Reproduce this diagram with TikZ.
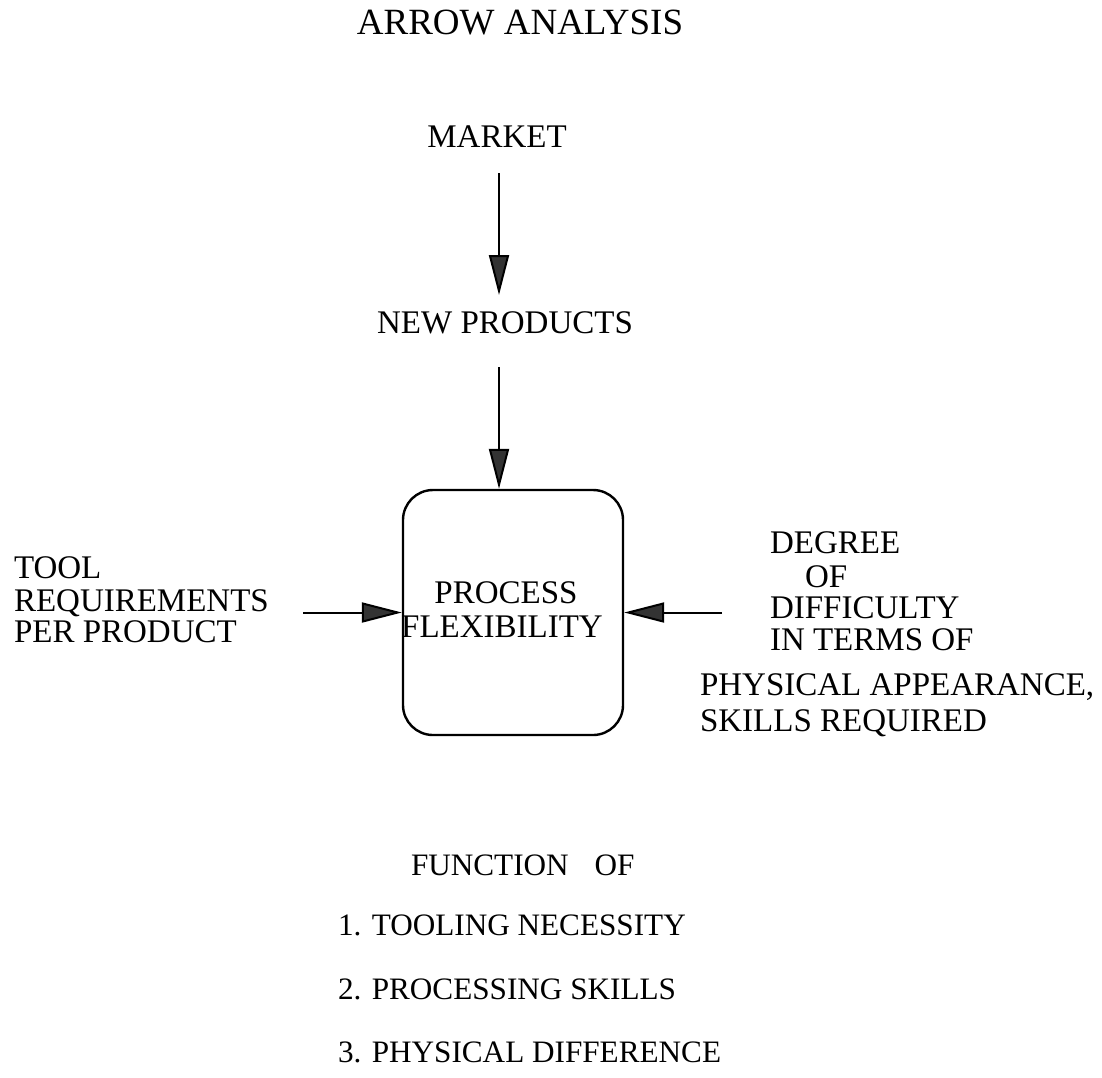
\documentclass[tikz,border=0pt]{standalone}
\usepackage{fontspec}
\setmainfont{Liberation Serif}
\usetikzlibrary{arrows.meta}
\tikzset{
  lbl/.style={inner sep=0pt, outer sep=0pt, anchor=base west, font=\fontsize{16.5}{20}\selectfont},
  clbl/.style={inner sep=0pt, outer sep=0pt, anchor=base, font=\fontsize{16.5}{20}\selectfont},
  listlbl/.style={lbl, font=\fontsize{15.6}{19}\selectfont},
  arr/.style={line width=1pt, -{Triangle[length=20pt,width=10pt,fill=black!80]}},
  procbox/.style={draw, line width=1.2pt, rounded corners=15pt, minimum width=110pt, minimum height=122.5pt, inner sep=0pt}
}
\begin{document}
\begin{tikzpicture}[x=0.5pt,y=-0.5pt]
\useasboundingbox (0,0) rectangle (1102,1077);
% title
\node[clbl, font=\fontsize{18.5}{22}\selectfont] (title) at (520,34) {ARROW ANALYSIS};
% top chain
\node[clbl] (market) at (497,147) {MARKET};
\node[clbl] (newprod) at (505,333) {NEW PRODUCTS};
% box
\node[procbox] (box) at (513,612.5) {};
\node[clbl] (proc1) at (506,603) {PROCESS};
\node[clbl] (proc2) at (502,637) {FLEXIBILITY};
% left text
\node[lbl] (tool1) at (14,578) {TOOL};
\node[lbl] (tool2) at (14,611) {REQUIREMENTS};
\node[lbl] (tool3) at (14,642) {PER PRODUCT};
% right text
\node[lbl] (deg1) at (770,553) {DEGREE};
\node[lbl] (deg2) at (805,587) {OF};
\node[lbl] (deg3) at (770,618) {DIFFICULTY};
\node[lbl] (deg4) at (770,650) {IN TERMS OF};
\node[lbl] (deg5) at (700,695) {PHYSICAL APPEARANCE,};
\node[lbl] (deg6) at (700,731) {SKILLS REQUIRED};
% bottom list
\node[listlbl] (func) at (411,875) {FUNCTION\hspace{13pt}OF};
\node[listlbl] (item1) at (338,935) {1. TOOLING NECESSITY};
\node[listlbl] (item2) at (338,999) {2. PROCESSING SKILLS};
\node[listlbl] (item3) at (338,1062) {3. PHYSICAL DIFFERENCE};
% connector ends
\coordinate (a1s) at (499,173);
\coordinate (a1e) at (499,295);
\coordinate (a2s) at (499,367);
\coordinate (a3s) at (303,612.5);
\coordinate (a4s) at (722,612.5);
% connectors
\draw[arr] (a1s) -- (a1e);
\draw[arr] (a2s) -- (a2s |- box.north);
\draw[arr] (a3s) -- (box.west);
\draw[arr] (a4s) -- (box.east);
\end{tikzpicture}
\end{document}
